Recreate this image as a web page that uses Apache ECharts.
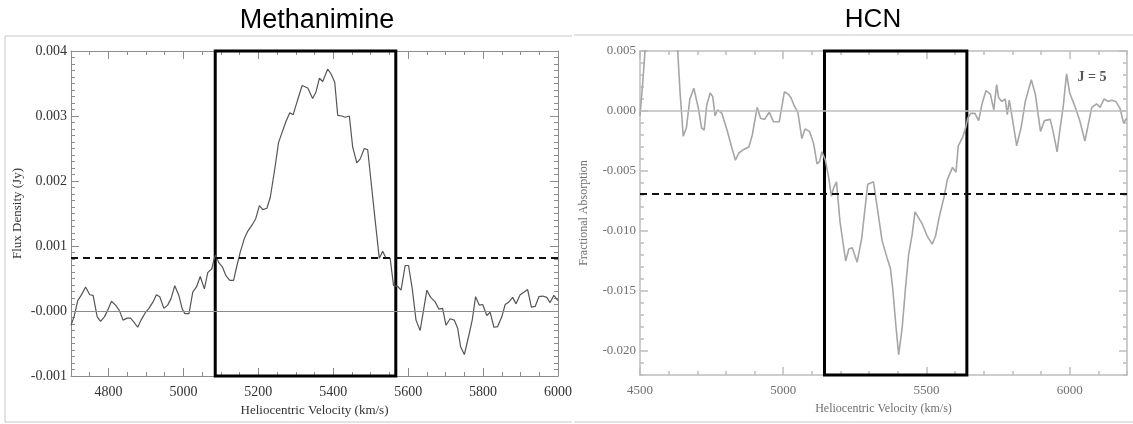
<!DOCTYPE html>
<html>
<head>
<meta charset="utf-8">
<script src="https://cdn.jsdelivr.net/npm/echarts@6.0.0/dist/echarts.min.js"></script>
<style>
  html, body { margin: 0; padding: 0; background: #fff; }
  #chart { width: 1133px; height: 424px; }
</style>
</head>
<body>
<div id="chart"></div>
<script>
// Methanimine spectrum
var ch2nhVel = [4700, 4708, 4718, 4727, 4739, 4750, 4759, 4770, 4779, 4789, 4798, 4808, 4819, 4829, 4839, 4850,
  4859, 4868, 4878, 4887, 4899, 4908, 4919, 4928, 4937, 4948, 4958, 4967, 4977, 4988, 4997, 5004, 5015, 5025,
  5035, 5045, 5056, 5065, 5076, 5081, 5086, 5095, 5104, 5114, 5124, 5134, 5143, 5152, 5163, 5172, 5183, 5193,
  5203, 5212, 5223, 5232, 5243, 5254, 5263, 5274, 5284, 5293, 5304, 5317, 5332, 5345, 5354, 5363, 5372, 5385,
  5394, 5404, 5412, 5423, 5432, 5443, 5452, 5463, 5472, 5483, 5492, 5503, 5512, 5523, 5532, 5541, 5552, 5561,
  5572, 5581, 5592, 5601, 5611, 5621, 5632, 5641, 5650, 5660, 5672, 5682, 5692, 5701, 5712, 5723, 5732, 5740,
  5750, 5761, 5771, 5780, 5790, 5799, 5810, 5819, 5829, 5839, 5850, 5859, 5869, 5879, 5888, 5899, 5909, 5919,
  5929, 5939, 5949, 5959, 5970, 5979, 5989, 6000];
var ch2nhFlux = [-0.00022, -0.00009, 0.00016, 0.00024, 0.00037, 0.00025, 0.00024, -0.00009, -0.00016, -0.00009,
  0.00001, 0.00015, 0.00009, 0.00001, -0.00014, -0.00011, -0.00011, -0.00017, -0.00025, -0.00014, -0.00002,
  0.00004, 0.00014, 0.00025, 0.00022, 0.00004, 0.00009, 0.00019, 0.00039, 0.00024, 0.00003, -0.00004, -0.00004,
  0.00029, 0.00037, 0.00053, 0.00034, 0.00059, 0.00065, 0.00078, 0.00086, 0.00074, 0.00068, 0.00054, 0.00047,
  0.00047, 0.00070, 0.00091, 0.00112, 0.00123, 0.00132, 0.00142, 0.00162, 0.00156, 0.00158, 0.00175, 0.00215,
  0.00259, 0.00274, 0.00292, 0.00305, 0.00302, 0.00323, 0.00347, 0.00343, 0.00327, 0.00337, 0.00358, 0.00353,
  0.00372, 0.00365, 0.00352, 0.00301, 0.00300, 0.00298, 0.00300, 0.00252, 0.00228, 0.00234, 0.00250, 0.00248,
  0.00188, 0.00139, 0.00081, 0.00092, 0.00081, 0.00081, 0.00039, 0.00038, 0.00032, 0.00070, 0.00070, 0.00034,
  -0.00014, -0.00030, 0.00001, 0.00032, 0.00021, 0.00014, 0.00003, 0.00004, -0.00022, -0.00012, -0.00014,
  -0.00026, -0.00055, -0.00067, -0.00040, -0.00014, 0.00022, 0.00009, 0.00010, -0.00007, -0.00002, -0.00025,
  -0.00024, -0.00009, 0.00010, 0.00014, 0.00021, 0.00011, 0.00025, 0.00029, 0.00033, 0.00006, 0.00007, 0.00022,
  0.00023, 0.00021, 0.00013, 0.00024, 0.00016];

// HCN J=5 fractional absorption (right panel)
var hcnVel = [4500, 4510, 4522, 4545, 4610, 4628, 4640, 4651, 4662, 4674, 4688, 4704, 4715, 4724, 4733, 4745,
  4754, 4762, 4771, 4786, 4804, 4821, 4833, 4845, 4862, 4880, 4892, 4909, 4921, 4935, 4951, 4966, 4986, 5004,
  5018, 5027, 5039, 5051, 5065, 5076, 5092, 5106, 5118, 5127, 5135, 5147, 5159, 5168, 5176, 5186, 5198, 5218,
  5229, 5241, 5258, 5274, 5295, 5315, 5331, 5345, 5362, 5374, 5383, 5394, 5403, 5415, 5427, 5438, 5450, 5460,
  5470, 5485, 5502, 5520, 5532, 5543, 5561, 5573, 5591, 5603, 5611, 5626, 5638, 5644, 5655, 5669, 5682, 5694,
  5708, 5723, 5735, 5745, 5752, 5763, 5775, 5782, 5789, 5801, 5815, 5831, 5845, 5866, 5880, 5898, 5912, 5932,
  5942, 5956, 5965, 5977, 5989, 6000, 6018, 6035, 6053, 6065, 6077, 6094, 6106, 6120, 6133, 6147, 6161, 6176,
  6188, 6199];
var hcnAbs = [-0.0004, 0.0025, 0.0065, 0.012, 0.012, 0.0065, 0.0015, -0.0021, -0.0014, 0.0010, 0.0019, 0.0002,
  -0.0014, -0.0016, 0.0005, 0.0015, 0.0012, -0.0004, 0.0001, -0.0002, -0.0016, -0.0031, -0.0041, -0.0035,
  -0.0032, -0.0030, -0.0020, 0.0003, -0.0006, -0.0007, -0.0001, -0.0009, -0.0009, 0.0016, 0.0014, 0.0011,
  0.0004, -0.0001, -0.0023, -0.0015, -0.0017, -0.0027, -0.0044, -0.0042, -0.0034, -0.0041, -0.0056, -0.0071,
  -0.0064, -0.0059, -0.0092, -0.0125, -0.0115, -0.0114, -0.0126, -0.0106, -0.0061, -0.0059, -0.0085, -0.0108,
  -0.0122, -0.0131, -0.0150, -0.0181, -0.0203, -0.0181, -0.0147, -0.0119, -0.0103, -0.0084, -0.0088, -0.0094,
  -0.0104, -0.0111, -0.0104, -0.0090, -0.0072, -0.0057, -0.0047, -0.0051, -0.0029, -0.0022, -0.0013, -0.0006,
  -0.0002, -0.0002, -0.0008, 0.0006, 0.0017, 0.0014, 0.0001, 0.0022, 0.0011, 0.0008, 0.0010, -0.0003, 0.0009,
  -0.0008, -0.0029, -0.0013, 0.0008, 0.0026, 0.0014, -0.0017, -0.0008, -0.0007, -0.0017, -0.0034, -0.0017,
  0.0003, 0.0031, 0.0015, 0.0004, -0.0008, -0.0025, -0.0011, 0.0003, 0.0006, 0.0003, 0.0010, 0.0008, 0.0009,
  0.0008, 0.0002, -0.0010, -0.0006];

// tick labels
var ch2nhVelTicks = [4800, 5000, 5200, 5400, 5600, 5800, 6000];
var ch2nhFluxTicks = [-0.001, 0, 0.001, 0.002, 0.003, 0.004];
var hcnVelTicks = [4500, 5000, 5500, 6000];
var hcnAbsTicks = [-0.020, -0.015, -0.010, -0.005, 0, 0.005];

// velocity windows (boxes) and detection thresholds (dashed)
var ch2nhWindow = [5085, 5567];
var hcnWindow = [5144, 5641];
var ch2nhLimit = 0.00082;
var hcnLimit = -0.0069;

var serif = 'Liberation Serif';

function zip(a, b) {
  return a.map(function (v, i) { return [v, b[i]]; });
}

// each side gets a minor-tick axis plus a major-tick axis laid on top of it
function makeAxes(dim, grid, min, max, step, majors, st, fmt, name, nameGap) {
  var sides = dim === 'x' ? ['bottom', 'top'] : ['left', 'right'];
  var out = [];
  sides.forEach(function (side, k) {
    out.push({
      type: 'value', gridIndex: grid, position: side, min: min, max: max, interval: step,
      axisLine: { show: true, onZero: false, lineStyle: { color: st.axis, width: st.width } },
      axisTick: { show: true, inside: true, length: 4, lineStyle: { color: st.axis, width: st.width } },
      axisLabel: { show: false },
      splitLine: { show: false }
    });
    var major = {
      type: 'value', gridIndex: grid, position: side, min: min, max: max,
      axisLine: { show: false, onZero: false },
      axisTick: { show: true, inside: true, length: 8, customValues: majors,
        lineStyle: { color: st.axis, width: st.width } },
      axisLabel: { show: false },
      splitLine: { show: false }
    };
    if (k === 0) {
      major.axisLabel = {
        show: true, customValues: majors, formatter: fmt, color: st.label,
        fontFamily: serif, fontSize: st.fontSize, margin: dim === 'x' ? 9 : 4
      };
      major.name = name;
      major.nameLocation = 'middle';
      major.nameGap = nameGap;
      major.nameTextStyle = { fontFamily: serif, fontSize: st.nameSize, color: st.label };
    }
    out.push(major);
  });
  return out;
}

var leftStyle = { axis: '#8c8c8c', width: 1, label: '#333', fontSize: 14, nameSize: 13 };
var rightStyle = { axis: '#bdbdbd', width: 1.5, label: '#707070', fontSize: 13, nameSize: 12 };

var fmtFlux = function (v) { return v === 0 ? '-0.000' : v.toFixed(3); };
var fmtAbs = function (v) { return v === 0 ? '0.000' : v.toFixed(3); };
var fmtVel = function (v) { return String(v); };

var xAxes = []
  .concat(makeAxes('x', 0, 4700, 6000, 50, ch2nhVelTicks, leftStyle, fmtVel, 'Heliocentric Velocity (km/s)', 28))
  .concat(makeAxes('x', 1, 4500, 6200, 100, hcnVelTicks, rightStyle, fmtVel, 'Heliocentric Velocity (km/s)', 28));
var yAxes = []
  .concat(makeAxes('y', 0, -0.001, 0.004, 0.0001, ch2nhFluxTicks, leftStyle, fmtFlux, 'Flux Density (Jy)', 47))
  .concat(makeAxes('y', 1, -0.022, 0.005, 0.001, hcnAbsTicks, rightStyle, fmtAbs, 'Fractional Absorption', 50));

var chart = echarts.init(document.getElementById('chart'));

chart.setOption({
  animation: false,
  backgroundColor: '#fff',
  title: [
    { text: 'Methanimine', left: 312, top: 2, textAlign: 'center',
      textStyle: { fontFamily: 'Liberation Sans', fontSize: 27, fontWeight: 'normal', color: '#000' } },
    { text: 'HCN', left: 868, top: 2, textAlign: 'center',
      textStyle: { fontFamily: 'Liberation Sans', fontSize: 26, fontWeight: 'normal', color: '#000' } },
    { text: 'J = 5', left: 1087, top: 65, textAlign: 'center',
      textStyle: { fontFamily: serif, fontSize: 14, fontWeight: 'bold', color: '#555' } }
  ],
  graphic: [
    { type: 'line', shape: { x1: 5, y1: 36, x2: 572, y2: 36 }, style: { stroke: '#c8c8c8', lineWidth: 1 } },
    { type: 'line', shape: { x1: 5, y1: 36, x2: 5, y2: 422 }, style: { stroke: '#c8c8c8', lineWidth: 1 } },
    { type: 'line', shape: { x1: 5, y1: 422, x2: 572, y2: 422 }, style: { stroke: '#c8c8c8', lineWidth: 1 } },
    { type: 'line', shape: { x1: 574, y1: 35, x2: 1133, y2: 35 }, style: { stroke: '#c8c8c8', lineWidth: 1 } },
    { type: 'line', shape: { x1: 574, y1: 422, x2: 1133, y2: 422 }, style: { stroke: '#c8c8c8', lineWidth: 1 } }
  ],
  grid: [
    { left: 71, top: 51, width: 487, height: 325 },
    { left: 640, top: 51, width: 487, height: 324 }
  ],
  xAxis: xAxes,
  yAxis: yAxes,
  series: [
    {
      type: 'line', xAxisIndex: 0, yAxisIndex: 0, data: zip(ch2nhVel, ch2nhFlux),
      symbol: 'none', lineStyle: { color: '#555', width: 1.2 }, silent: true, z: 3,
      markLine: {
        symbol: 'none', silent: true, precision: 6, label: { show: false },
        data: [
          { yAxis: 0, lineStyle: { color: '#8c8c8c', width: 1, type: 'solid' } },
          { yAxis: ch2nhLimit, lineStyle: { color: '#111', width: 2, type: [7, 5] } }
        ]
      },
      markArea: {
        silent: true,
        itemStyle: { color: 'rgba(0,0,0,0)', borderColor: '#000', borderWidth: 3 },
        data: [[{ xAxis: ch2nhWindow[0] }, { xAxis: ch2nhWindow[1] }]]
      }
    },
    {
      type: 'line', xAxisIndex: 4, yAxisIndex: 4, data: zip(hcnVel, hcnAbs),
      symbol: 'none', lineStyle: { color: '#a6a6a6', width: 1.6 }, silent: true, z: 3, clip: true,
      markLine: {
        symbol: 'none', silent: true, precision: 6, label: { show: false },
        data: [
          { yAxis: 0, lineStyle: { color: '#bdbdbd', width: 1.5, type: 'solid' } },
          { yAxis: hcnLimit, lineStyle: { color: '#111', width: 2, type: [7, 5] } }
        ]
      },
      markArea: {
        silent: true,
        itemStyle: { color: 'rgba(0,0,0,0)', borderColor: '#000', borderWidth: 3 },
        data: [[{ xAxis: hcnWindow[0] }, { xAxis: hcnWindow[1] }]]
      }
    }
  ]
});
</script>
</body>
</html>
